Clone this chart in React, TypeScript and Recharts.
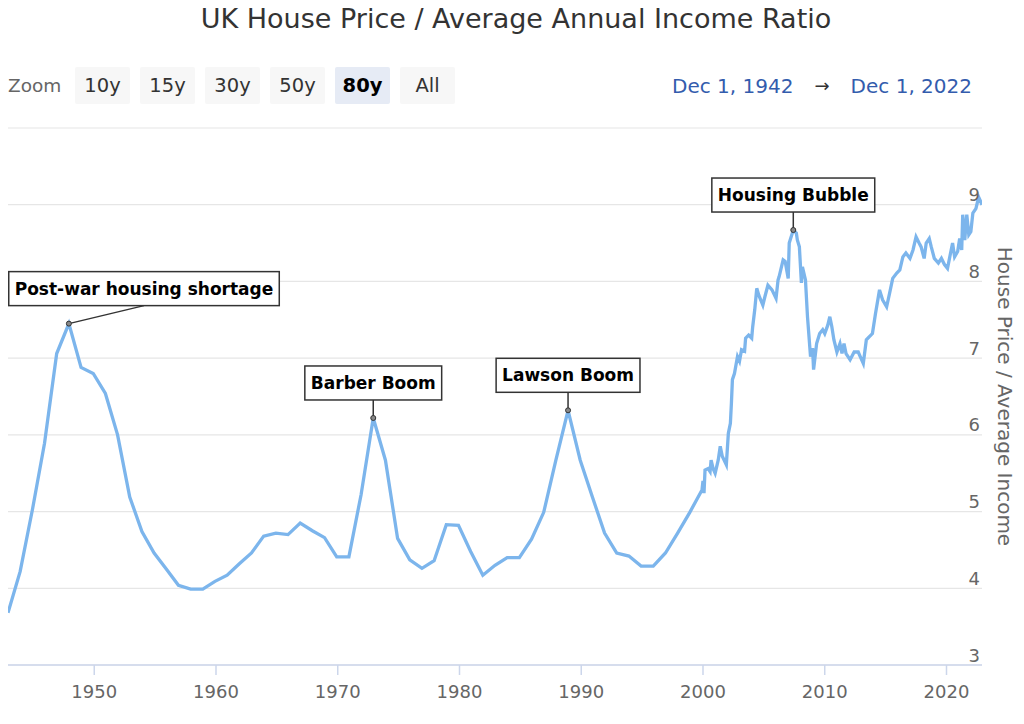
import React from 'react';
import { LineChart, Line, XAxis, YAxis, CartesianGrid, ReferenceDot } from 'recharts';

// ---------- data ----------
const annualYears = [
  1942, 1943, 1944, 1945, 1946, 1947, 1948, 1949, 1950, 1951,
  1952, 1953, 1954, 1955, 1956, 1957, 1958, 1959, 1960, 1961,
  1962, 1963, 1964, 1965, 1966, 1967, 1968, 1969, 1970, 1971,
  1972, 1973, 1974, 1975, 1976, 1977, 1978, 1979, 1980, 1981,
  1982, 1983, 1984, 1985, 1986, 1987, 1988, 1989, 1990, 1991,
  1992, 1993, 1994, 1995, 1996, 1997, 1998, 1999,
];
const annualRatios = [
  3.68, 4.22, 5.02, 5.89, 7.06, 7.45, 6.88, 6.80, 6.54, 6.00,
  5.19, 4.74, 4.46, 4.25, 4.04, 3.99, 3.99, 4.09, 4.17, 4.32,
  4.46, 4.68, 4.72, 4.70, 4.85, 4.75, 4.66, 4.41, 4.41, 5.22,
  6.22, 5.67, 4.65, 4.37, 4.26, 4.36, 4.83, 4.82, 4.48, 4.17,
  4.30, 4.40, 4.40, 4.64, 4.99, 5.67, 6.32, 5.67, 5.19, 4.72,
  4.46, 4.42, 4.29, 4.29, 4.46, 4.72, 4.99, 5.28,
];

const monthlyDates = [
  '2000-01', '2000-02', '2000-03', '2000-06', '2000-08', '2000-09', '2000-11',
  '2001-01', '2001-04', '2001-06', '2001-08', '2001-12',
  '2002-02', '2002-04', '2002-05', '2002-06', '2002-08', '2002-11',
  '2003-01', '2003-03', '2003-06', '2003-07', '2003-10',
  '2004-01', '2004-02', '2004-04', '2004-06', '2004-08', '2004-12',
  '2005-02', '2005-05', '2005-09',
  '2006-01', '2006-03', '2006-04', '2006-08', '2006-10',
  '2007-01', '2007-02', '2007-06', '2007-09', '2007-10', '2007-12',
  '2008-02', '2008-03', '2008-06', '2008-08', '2008-11',
  '2009-01', '2009-02', '2009-05', '2009-08', '2009-11',
  '2010-01', '2010-04', '2010-06', '2010-08', '2010-10',
  '2011-01', '2011-04', '2011-06', '2011-08', '2011-10',
  '2012-02', '2012-06', '2012-10', '2012-12',
  '2013-03', '2013-06', '2013-09', '2013-12',
  '2014-03', '2014-07', '2014-10',
  '2015-02', '2015-05', '2015-08', '2015-12',
  '2016-03', '2016-06', '2016-09',
  '2017-01', '2017-04', '2017-07', '2017-10', '2017-12',
  '2018-03', '2018-05', '2018-08', '2018-10',
  '2019-01', '2019-05', '2019-08', '2019-11',
  '2020-02', '2020-05', '2020-07', '2020-09', '2020-12',
  '2021-02', '2021-04', '2021-05', '2021-07', '2021-09', '2021-11',
  '2022-01', '2022-03', '2022-06', '2022-08', '2022-09', '2022-12',
];
const monthlyRatios = [
  5.40, 5.24, 5.54, 5.56, 5.52, 5.67, 5.56,
  5.50, 5.67, 5.85, 5.72, 5.61,
  6.02, 6.15, 6.41, 6.72, 6.80, 7.02,
  6.96, 7.11, 7.09, 7.26, 7.30,
  7.26, 7.41, 7.63, 7.91, 7.82, 7.69,
  7.80, 7.95, 7.89,
  7.78, 8.02, 8.06, 8.28, 8.26,
  8.04, 8.50, 8.67, 8.63, 8.54, 8.45,
  7.98, 8.19, 8.02, 7.54, 7.02,
  7.13, 6.85, 7.19, 7.32, 7.37,
  7.32, 7.43, 7.54, 7.41, 7.24,
  7.08, 7.19, 7.06, 7.19, 7.06,
  6.98, 7.08, 7.08, 7.02,
  6.93, 7.24, 7.28, 7.32,
  7.58, 7.89, 7.76,
  7.67, 7.85, 8.04, 8.11,
  8.15, 8.32, 8.37,
  8.30, 8.41, 8.58, 8.50, 8.45,
  8.30, 8.50, 8.56, 8.45,
  8.30, 8.24, 8.30, 8.22,
  8.17, 8.37, 8.50, 8.32, 8.39,
  8.56, 8.41, 8.87, 8.54, 8.87, 8.61,
  8.65, 8.89, 8.95, 9.06, 9.09, 9.00,
];

const xTickYears = [1950, 1960, 1970, 1980, 1990, 2000, 2010, 2020];
const yTickValues = [3, 4, 5, 6, 7, 8, 9, 10];
const rangeStartDate = '1942-12';
const rangeEndDate = '2022-12';

const annotationLabels = ['Post-war housing shortage', 'Barber Boom', 'Lawson Boom', 'Housing Bubble'];
const annotationDates = ['1947-12', '1972-12', '1988-12', '2007-06'];

const zoomButtons = ['10y', '15y', '30y', '50y', '80y', 'All'];
const selectedZoom = '80y';
const rangeStartLabel = 'Dec 1, 1942';
const rangeEndLabel = 'Dec 1, 2022';

const chartTitle = 'UK House Price / Average Annual Income Ratio';
const yAxisTitle = 'House Price / Average Income';

// ---------- helpers ----------
const toT = (d: string) => {
  const [y, m] = d.split('-').map(Number);
  return y + (m - 1) / 12;
};

const data = [
  ...annualYears.map((y, i) => ({ t: toT(`${y}-12`), ratio: annualRatios[i] })),
  ...monthlyDates.map((d, i) => ({ t: toT(d), ratio: monthlyRatios[i] })),
];

const valueAt = (d: string) => {
  const t = toT(d);
  const p = data.find((q) => Math.abs(q.t - t) < 1e-6);
  return p ? p.ratio : 0;
};

const FONT = '"DejaVu Sans", Verdana, sans-serif';
const CHART_W = 1016;
const CHART_H = 716;
const PLOT_TOP = 120;
const PLOT_RIGHT = 974;
const ANN_FONT_SIZE = 17;

let measureCtx: CanvasRenderingContext2D | null = null;
const measure = (text: string, font: string) => {
  if (!measureCtx) {
    const c = document.createElement('canvas');
    measureCtx = c.getContext('2d');
  }
  if (!measureCtx) return text.length * 10;
  measureCtx.font = font;
  return measureCtx.measureText(text).width;
};

const makeAnnotationShape = (label: string) => (props: any) => {
  const { cx, cy } = props;
  if (cx == null || cy == null) return <g />;
  const tw = measure(label, `bold ${ANN_FONT_SIZE}px "DejaVu Sans"`);
  const w = tw + 12;
  const h = 34;
  let left = cx - w / 2;
  if (left < 0.75) left = 0.75;
  const bottom = cy - 18;
  const top = bottom - h;
  const ax = left + w / 2;
  return (
    <g>
      <line x1={ax} y1={bottom} x2={cx} y2={cy} stroke="#333" strokeWidth={1.5} />
      <rect x={left} y={top} width={w} height={h} fill="#fff" stroke="#333" strokeWidth={1.5} />
      <text
        x={left + w / 2}
        y={top + h / 2}
        textAnchor="middle"
        dominantBaseline="central"
        fontFamily={FONT}
        fontWeight="bold"
        fontSize={ANN_FONT_SIZE}
        fill="#000"
      >
        {label}
      </text>
      <circle cx={cx} cy={cy} r={2.5} fill="#888" stroke="#333" strokeWidth={1} />
    </g>
  );
};

const YTick = (props: any) => {
  const { y, payload } = props;
  if (payload.value === yTickValues[yTickValues.length - 1]) return <g />;
  return (
    <text
      x={PLOT_RIGHT - 2}
      y={y - 10}
      textAnchor="end"
      dominantBaseline="central"
      fill="#666"
      fontSize={18}
      fontFamily={FONT}
    >
      {payload.value}
    </text>
  );
};

const YTitle = (props: any) => {
  const vb = props.viewBox || {};
  const cy = (vb.y ?? PLOT_TOP) + (vb.height ?? 537) / 2;
  const cx = 997;
  return (
    <text
      x={cx}
      y={cy}
      transform={`rotate(90 ${cx} ${cy})`}
      textAnchor="middle"
      dominantBaseline="central"
      fill="#666"
      fontSize={20}
      fontFamily={FONT}
    >
      {yAxisTitle}
    </text>
  );
};

// header svg spans the page from y = 0 (8px above the chart)
const HEADER_OFFSET = 8;

const ButtonBar = () => {
  const btnW = 55;
  const btnH = 37;
  const gap = 10;
  const startX = 67;
  const y = 59 + HEADER_OFFSET;
  return (
    <g>
      <text x={0} y={y + btnH / 2} dominantBaseline="central" fill="#666" fontSize={18.5} fontFamily={FONT}>
        Zoom
      </text>
      {zoomButtons.map((b, i) => {
        const x = startX + i * (btnW + gap);
        const sel = b === selectedZoom;
        return (
          <g key={b}>
            <rect x={x} y={y} width={btnW} height={btnH} rx={2} fill={sel ? '#e6ebf5' : '#f7f7f7'} />
            <text
              x={x + btnW / 2}
              y={y + btnH / 2}
              textAnchor="middle"
              dominantBaseline="central"
              fill={sel ? '#000' : '#333'}
              fontWeight={sel ? 'bold' : 'normal'}
              fontSize={19.5}
              fontFamily={FONT}
            >
              {b}
            </text>
          </g>
        );
      })}
      <text x={664} y={y + btnH / 2} dominantBaseline="central" fill="#335cad" fontSize={20} fontFamily={FONT}>
        {rangeStartLabel}
      </text>
      <text x={814} y={y + btnH / 2} textAnchor="middle" dominantBaseline="central" fill="#333" fontSize={18} fontFamily={FONT}>
        →
      </text>
      <text x={964} y={y + btnH / 2} textAnchor="end" dominantBaseline="central" fill="#335cad" fontSize={20} fontFamily={FONT}>
        {rangeEndLabel}
      </text>
    </g>
  );
};

export default function App() {
  return (
    <div style={{ position: 'relative', width: CHART_W, height: CHART_H, fontFamily: FONT }}>
      <svg
        width={CHART_W}
        height={PLOT_TOP + HEADER_OFFSET}
        style={{ position: 'absolute', left: 0, top: -HEADER_OFFSET, zIndex: 2, pointerEvents: 'none', overflow: 'visible' }}
      >
        <text x={508} y={20 + HEADER_OFFSET} textAnchor="middle" fill="#333" fontSize={27} fontFamily={FONT}>
          {chartTitle}
        </text>
        <ButtonBar />
      </svg>
      <div style={{ position: 'absolute', left: 0, top: 0 }}>
        <LineChart
          width={CHART_W}
          height={CHART_H}
          data={data}
          margin={{ top: PLOT_TOP, right: 0, bottom: 19, left: 0 }}
        >
          <CartesianGrid vertical={false} stroke="#e6e6e6" strokeWidth={1.2} />
          <XAxis
            dataKey="t"
            type="number"
            domain={[toT(rangeStartDate), toT(rangeEndDate)]}
            ticks={xTickYears}
            allowDataOverflow
            height={40}
            tickSize={10}
            tickMargin={10}
            stroke="#ccd6eb"
            axisLine={{ stroke: '#ccd6eb', strokeWidth: 1.5 }}
            tickLine={{ stroke: '#ccd6eb', strokeWidth: 1.5 }}
            tick={{ fill: '#666', fontSize: 18, fontFamily: FONT }}
            interval={0}
          />
          <YAxis
            orientation="right"
            type="number"
            domain={[3, 10]}
            ticks={yTickValues}
            width={42}
            axisLine={false}
            tickLine={false}
            tick={<YTick />}
            interval={0}
            label={<YTitle />}
          />
          <Line
            type="linear"
            dataKey="ratio"
            stroke="#7cb5ec"
            strokeWidth={3.3}
            dot={false}
            activeDot={false}
            isAnimationActive={false}
          />
          {annotationLabels.map((label, i) => (
            <ReferenceDot
              key={label}
              x={toT(annotationDates[i])}
              y={valueAt(annotationDates[i])}
              r={3}
              ifOverflow="visible"
              shape={makeAnnotationShape(label)}
            />
          ))}
        </LineChart>
      </div>
    </div>
  );
}
